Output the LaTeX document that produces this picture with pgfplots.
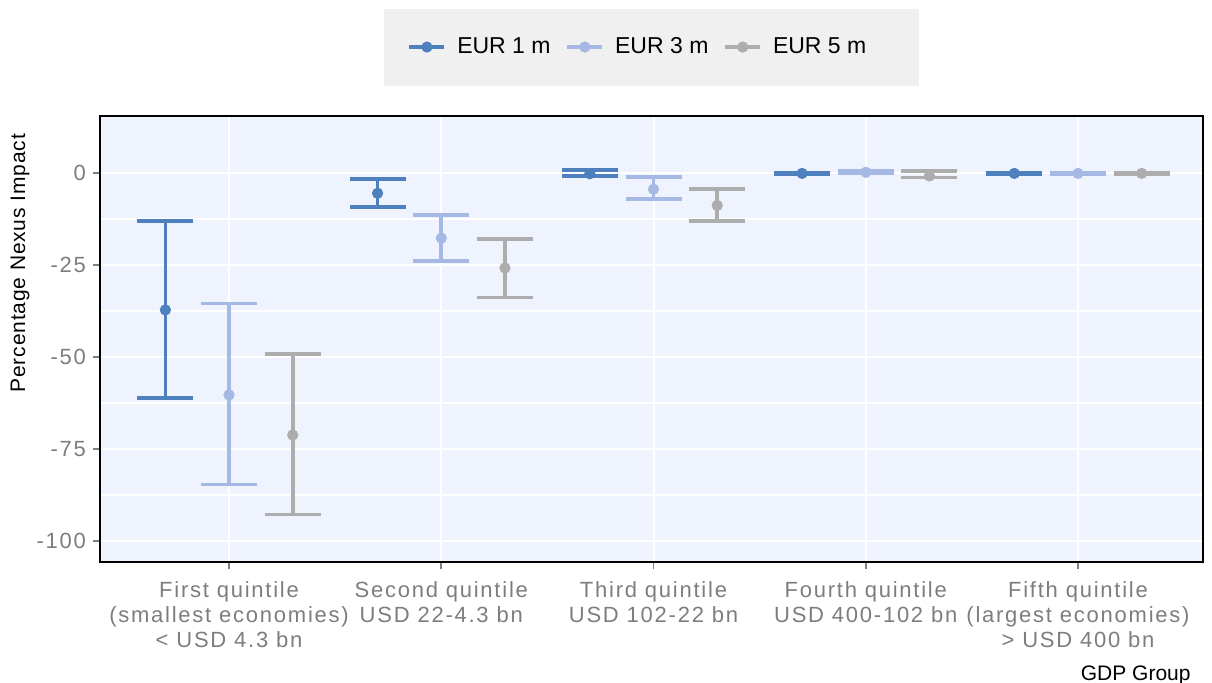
\documentclass[border=0pt]{standalone}
\usepackage{fontspec}
\setmainfont{Liberation Sans}
\newfontfamily\tickfont[LetterSpace=8]{Liberation Sans}
\newfontfamily\titlefont[LetterSpace=4]{Liberation Sans}
\usepackage{pgfplots}
\usepackage{pgfplotstable}
\pgfplotsset{compat=1.18}

\definecolor{cone}{RGB}{78,128,190}
\definecolor{cthree}{RGB}{166,185,228}
\definecolor{cfive}{RGB}{173,173,173}
\definecolor{panelbg}{RGB}{238,243,253}
\definecolor{legbg}{RGB}{240,240,240}
\definecolor{tickgray}{RGB}{125,125,125}

% x = group + dodge offset, y = estimate, ep/em = distance to upper/lower bound
\pgfplotstableread{
x    y      ep    em
0.7  -37.2  24.1  23.9
1.7  -5.5   3.9   3.8
2.7  -0.2   1.0   0.6
3.7  -0.1   0.2   0.2
4.7  -0.1   0.15  0.15
}\tabone
\pgfplotstableread{
x    y      ep    em
1.0  -60.3  24.8  24.3
2.0  -17.7  6.3   6.2
3.0  -4.4   3.4   2.7
4.0  0.2    0.3   0.3
5.0  -0.1   0.12  0.12
}\tabthree
\pgfplotstableread{
x    y      ep    em
1.3  -71.2  22.0  21.6
2.3  -25.8  7.8   8.0
3.3  -8.8   4.5   4.2
4.3  -0.8   1.4   0.4
5.3  -0.1   0.15  0.15
}\tabfive

\begin{document}
\begin{tikzpicture}
\begin{axis}[
    scale only axis,
    width=551.5pt, height=223pt,
    xmin=0.392, xmax=5.589,
    ymin=-105.7, ymax=15.5,
    axis background/.style={fill=panelbg},
    axis line style={black, line width=0.8pt},
    xtick={1,2,3,4,5},
    xticklabels={
      {First quintile\\(smallest economies)\\< USD 4.3 bn},
      {Second quintile\\USD 22-4.3 bn},
      {Third quintile\\USD 102-22 bn},
      {Fourth quintile\\USD 400-102 bn},
      {Fifth quintile\\(largest economies)\\> USD 400 bn}},
    ytick={-100,-75,-50,-25,0},
    yticklabels={-100,-75,-50,-25,0},
    minor y tick num=1,
    minor tick length=0pt,
    major tick length=3.5pt,
    tick align=outside,
    tick style={gray, line width=0.8pt},
    xtick pos=bottom, ytick pos=left,
    grid=both,
    major grid style={white, line width=1pt},
    minor grid style={white, line width=0.8pt},
    xticklabel style={font=\tickfont\fontsize{11}{12.5}\selectfont, text=tickgray, align=center, yshift=-3pt},
    yticklabel style={font=\tickfont\fontsize{11}{12.5}\selectfont, text=tickgray},
    legend style={at={(0.5,1)}, anchor=south, yshift=15pt, draw=none, fill=legbg,
      font=\fontsize{11.5}{13.5}\selectfont, legend columns=3,
      inner xsep=12pt, inner ysep=12.5pt,
      /tikz/every odd column/.append style={column sep=3.5pt},
      /tikz/every even column/.append style={column sep=5.5pt}},
    legend image code/.code={
      \draw[line width=1.8pt] (0pt,0pt) -- (17.5pt,0pt);
      \fill (8.75pt,0pt) circle (2.6pt);},
]
\addplot[only marks, mark=*, mark size=2.6pt, color=cone,
  error bars/.cd, y dir=both, y explicit,
  error bar style={line width=1.8pt, color=cone},
  error mark options={line width=1.8pt, mark size=14pt, rotate=90, color=cone}]
  table[x=x, y=y, y error plus=ep, y error minus=em] {\tabone};
\addplot[only marks, mark=*, mark size=2.6pt, color=cthree,
  error bars/.cd, y dir=both, y explicit,
  error bar style={line width=1.8pt, color=cthree},
  error mark options={line width=1.8pt, mark size=14pt, rotate=90, color=cthree}]
  table[x=x, y=y, y error plus=ep, y error minus=em] {\tabthree};
\addplot[only marks, mark=*, mark size=2.6pt, color=cfive,
  error bars/.cd, y dir=both, y explicit,
  error bar style={line width=1.8pt, color=cfive},
  error mark options={line width=1.8pt, mark size=14pt, rotate=90, color=cfive}]
  table[x=x, y=y, y error plus=ep, y error minus=em] {\tabfive};
\legend{EUR 1 m, EUR 3 m, EUR 5 m\hspace*{12.5pt}}
\end{axis}
\node[rotate=90, anchor=east, font=\titlefont\fontsize{10.5}{12.5}\selectfont] at (-40pt,217.5pt) {Percentage Nexus Impact};
\node[anchor=base east, inner sep=0pt, font=\fontsize{10.5}{12.5}\selectfont] at (545.5pt,-59.5pt) {GDP Group};
\pgfresetboundingbox
\useasboundingbox (-50pt,-60.5pt) rectangle (556pt,281pt);
\end{tikzpicture}
\end{document}
